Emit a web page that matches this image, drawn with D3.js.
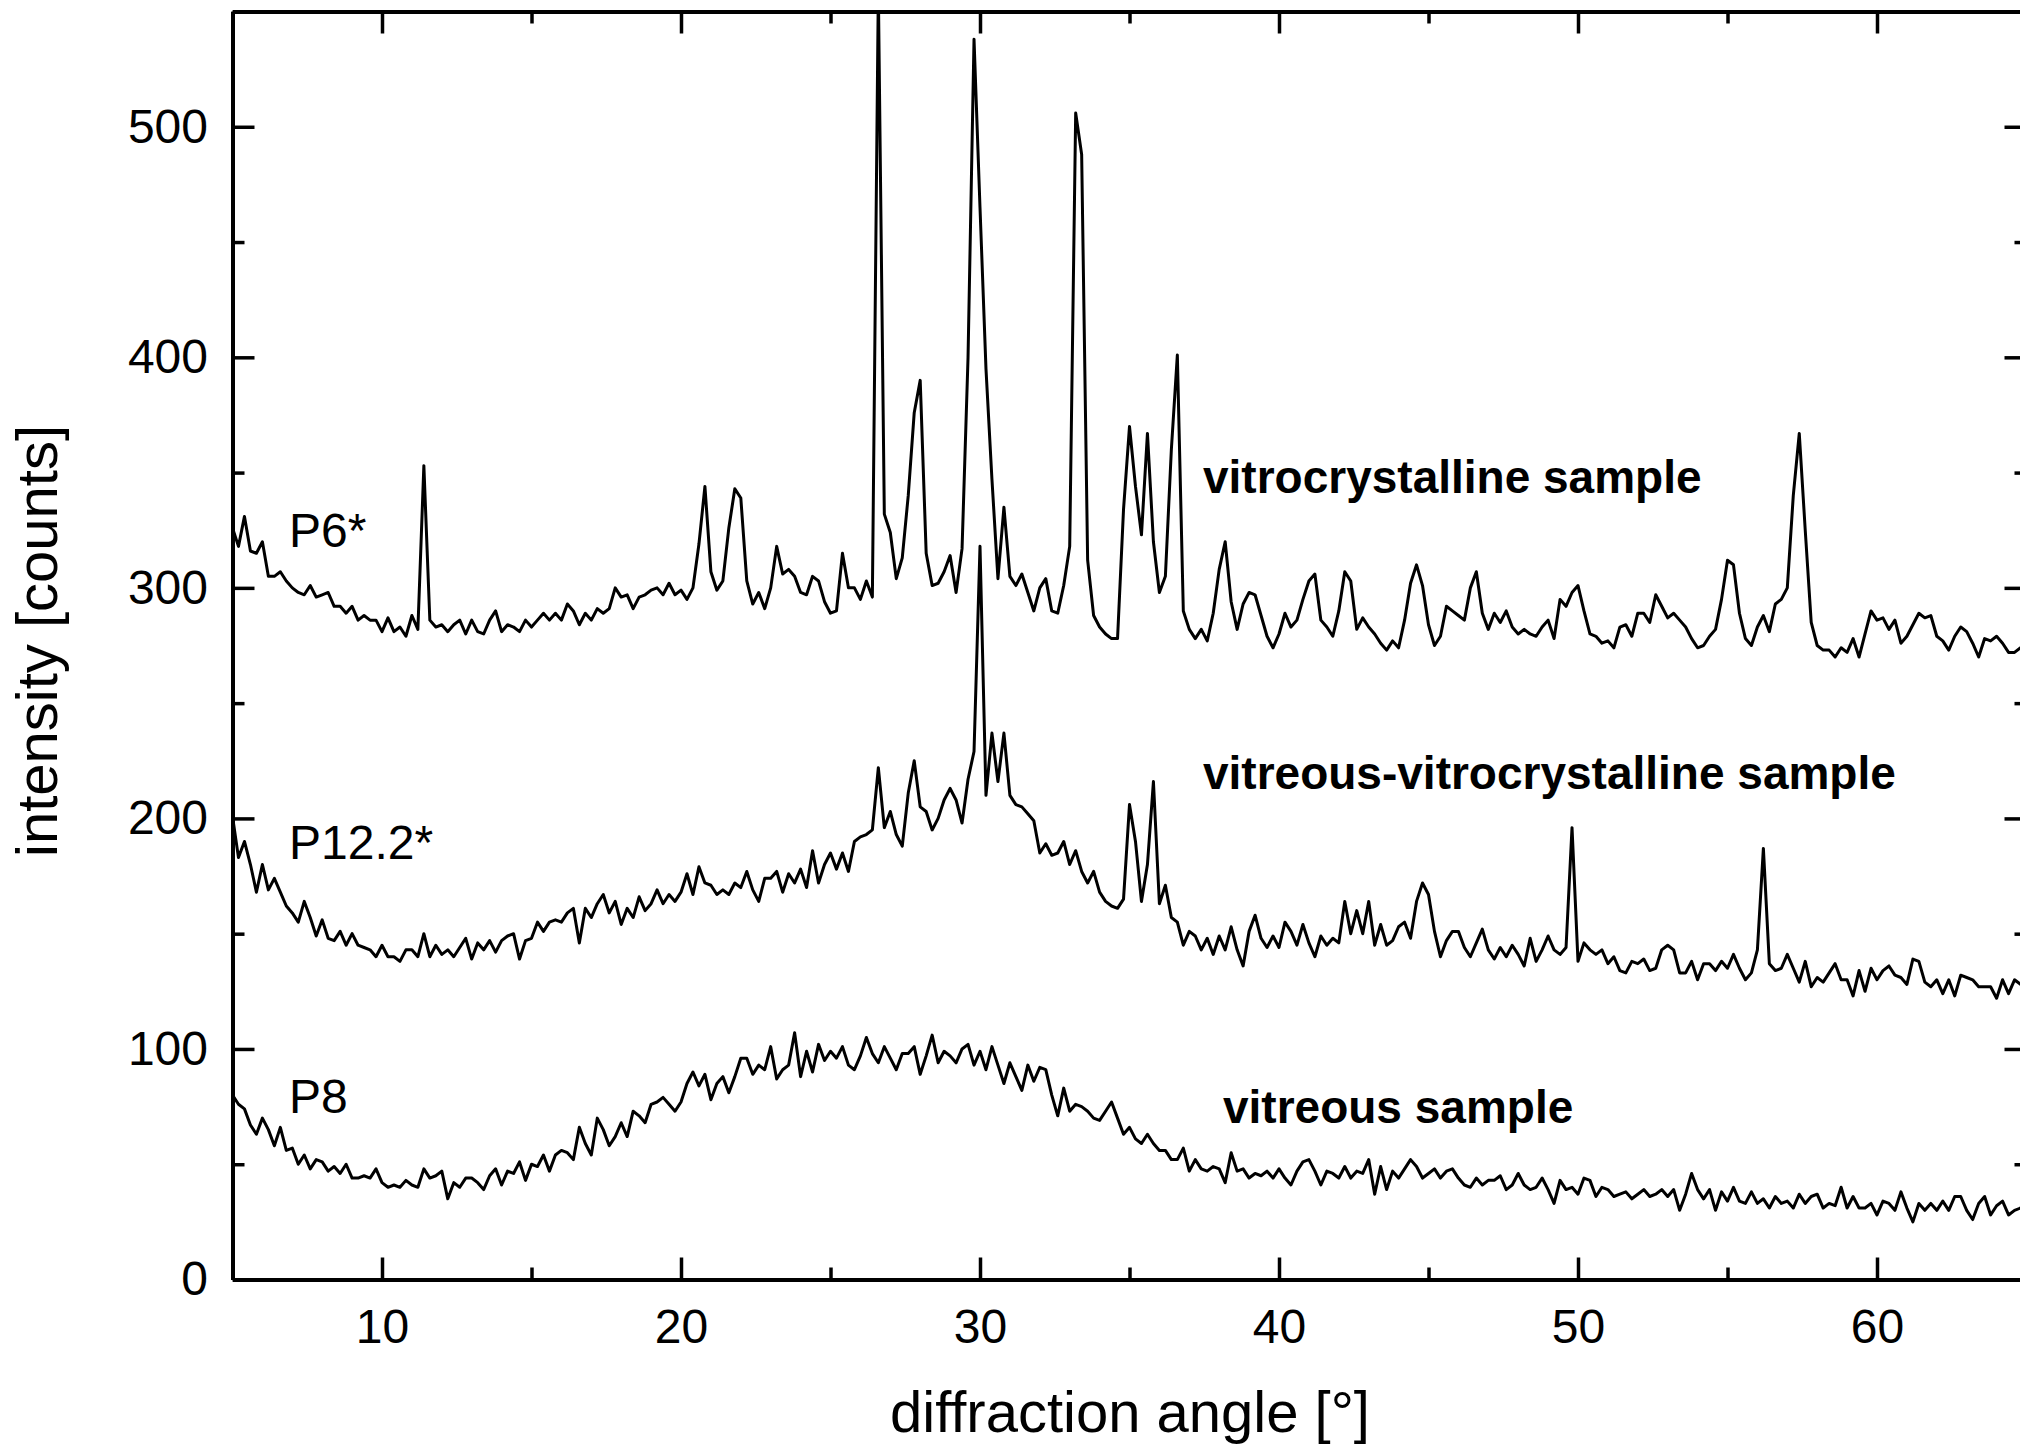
<!DOCTYPE html>
<html>
<head>
<meta charset="utf-8">
<script src="https://cdn.jsdelivr.net/npm/d3@7"></script>
<style>
  html, body { margin: 0; padding: 0; background: #fff; }
  svg { display: block; }
  text { font-family: "Liberation Sans", Arial, Helvetica, sans-serif; fill: #000; }
</style>
</head>
<body>
<svg id="chart" width="2020" height="1446"></svg>
<script>
// Scan grid: 2-theta from 5° to 65° in 0.2° steps (301 points per pattern)
const angleStart = 5;
const angleStep = 0.2;

// Sample P6* (vitrocrystalline), counts
const countsP6 = [
  326,318,331,316,315, 320,305,305,307,303, 300,298,297,301,296, 297,298,292,292,289,
  292,286,288,286,286, 281,287,281,283,279, 288,282,353,286,283, 284,281,284,286,280,
  286,281,280,286,290, 281,284,283,281,286, 283,286,289,286,289, 286,293,290,284,289,
  286,291,289,291,300, 296,297,291,296,297, 299,300,297,302,297, 299,295,300,319,344,
  307,299,303,326,343, 339,303,293,298,291, 300,318,306,308,305, 298,297,305,303,294,
  289,290,315,300,300, 295,303,296,560,332, 324,304,313,340,376, 390,315,301,302,307,
  314,298,317,400,538, 465,395,347,304,335, 305,301,306,298,290, 300,304,290,289,301,
  318,506,488,312,288, 283,280,278,278,334, 370,344,323,367,320, 298,305,360,401,290,
  282,278,282,277,289, 308,320,294,282,293, 298,297,288,279,274, 280,289,283,286,295,
  303,306,286,283,279, 290,307,303,282,287, 283,280,276,273,277, 274,286,302,310,301,
  284,275,279,292,290, 288,286,300,307,289, 282,289,285,290,283, 280,282,280,279,283,
  286,278,295,292,298, 301,290,280,279,276, 277,274,283,284,279, 289,289,285,297,292,
  287,289,286,283,278, 274,275,279,282,295, 312,310,289,278,275, 283,288,281,293,295,
  300,340,367,325,285, 275,273,273,270,274, 272,278,270,280,290, 286,287,282,286,276,
  279,284,289,287,288, 279,277,273,279,283, 281,276,270,278,277, 279,276,272,272,274,
  275
];

// Sample P12.2* (vitreous-vitrocrystalline), counts
const countsP12 = [
  201,183,190,180,168, 180,169,174,168,162, 159,155,164,157,149, 156,148,147,151,145,
  150,145,144,143,140, 145,140,140,138,143, 143,140,150,140,145, 141,143,140,144,148,
  139,146,143,147,142, 147,149,150,139,147, 148,155,151,155,156, 155,159,161,146,161,
  157,163,167,159,164, 154,161,157,166,160, 163,169,163,167,164, 168,176,167,179,172,
  171,167,169,167,172, 170,177,169,164,174, 174,177,168,176,172, 178,170,186,172,180,
  185,178,185,177,190, 192,193,195,222,196, 203,193,188,211,225, 205,203,195,200,208,
  213,208,198,217,229, 318,210,237,216,237, 210,206,205,202,199, 185,189,184,185,190,
  180,186,177,172,177, 168,164,162,161,165, 206,190,164,180,216, 163,171,157,155,145,
  151,149,143,148,141, 149,143,153,143,136, 151,158,148,144,149, 144,155,151,145,154,
  146,140,149,145,148, 146,164,150,160,150, 164,145,154,145,147, 153,155,148,164,172,
  167,151,140,147,151, 151,144,140,146,152, 143,139,144,140,145, 141,136,148,138,143,
  149,143,141,144,196, 138,146,143,141,143, 137,140,134,133,138, 137,139,134,135,143,
  145,143,133,133,138, 130,137,137,134,138, 135,141,135,130,133, 143,187,137,134,135,
  141,135,129,138,127, 131,129,133,137,130, 130,123,134,125,135, 130,134,136,132,131,
  128,139,138,129,127, 130,124,130,123,132, 131,130,127,127,127, 122,130,124,130,128,
  130
];

// Sample P8 (vitreous), counts
const countsP8 = [
  80,76,74,67,63, 70,65,58,66,56, 57,50,54,48,52, 51,47,49,46,50,
  44,44,45,44,48, 42,40,41,40,43, 41,40,48,44,45, 47,35,42,40,44,
  44,42,39,45,48, 41,47,46,51,43, 50,49,54,47,54, 56,55,52,66,59,
  54,70,65,58,62, 68,62,73,71,68, 76,77,79,76,73, 77,85,90,84,89,
  78,85,88,81,88, 96,96,89,93,91, 101,87,91,93,107, 88,99,90,102,95,
  99,96,101,93,91, 97,105,98,94,101, 96,91,98,98,101, 89,97,106,94,99,
  97,94,100,102,93, 99,91,101,93,85, 94,88,82,93,86, 92,91,80,71,83,
  73,76,75,73,70, 69,73,77,70,63, 66,61,59,63,59, 56,56,52,52,57,
  47,52,48,47,49, 48,42,55,47,48, 44,46,45,47,44, 48,44,41,47,51,
  52,47,41,47,46, 44,49,44,47,46, 52,37,49,39,47, 44,48,52,49,44,
  46,48,44,47,48, 44,41,40,44,41, 43,43,45,39,41, 46,41,39,40,44,
  39,33,43,39,40, 37,44,43,36,40, 39,36,37,38,35, 37,39,36,37,39,
  36,39,30,37,46, 39,35,39,30,38, 34,40,34,33,38, 33,35,31,36,33,
  34,31,37,33,36, 37,31,33,32,40, 31,36,31,31,33, 28,34,33,30,38,
  31,25,33,30,33, 30,34,30,36,36, 30,26,33,36,28, 32,34,28,30,31,
  34
];

// Axis ticks
const xMajorTicks = [10, 20, 30, 40, 50, 60];
const xMinorTicks = [5, 15, 25, 35, 45, 55, 65];
const yMajorTicks = [0, 100, 200, 300, 400, 500];
const yMinorTicks = [50, 150, 250, 350, 450, 550];

// Curve names and annotations
const sampleCodes = ["P6*", "P12.2*", "P8"];
const sampleKinds = ["vitrocrystalline sample", "vitreous-vitrocrystalline sample", "vitreous sample"];
const xTitle = "diffraction angle [°]";
const yTitle = "intensity [counts]";

const angles = countsP6.map((_, i) => +(angleStart + i * angleStep).toFixed(1));

const svg = d3.select("#chart");
const W = 2020, H = 1446;
const plot = { left: 232.5, right: 2026.5, top: 11.5, bottom: 1279.5 };

svg.append("rect").attr("width", W).attr("height", H).attr("fill", "#fff");

const x = d3.scaleLinear().domain([5, 65]).range([plot.left, plot.right]);
const y = d3.scaleLinear().domain([0, 550]).range([plot.bottom, plot.top]);

svg.append("clipPath").attr("id", "plot-clip")
  .append("rect")
  .attr("x", plot.left).attr("y", plot.top)
  .attr("width", plot.right - plot.left).attr("height", plot.bottom - plot.top);

// Diffraction patterns
const line = d3.line()
  .x((d, i) => x(angles[i]))
  .y(d => y(d));

const curves = svg.append("g").attr("clip-path", "url(#plot-clip)");
[countsP6, countsP12, countsP8].forEach(series => {
  curves.append("path")
    .datum(series)
    .attr("d", line)
    .attr("fill", "none")
    .attr("stroke", "#000")
    .attr("stroke-width", 3)
    .attr("stroke-linejoin", "round")
    .attr("stroke-linecap", "round");
});

// Frame with inward ticks on all four sides
const fontSize = 48;
function styleAxis(g, showLabels) {
  g.selectAll(".domain").attr("stroke", "#000").attr("stroke-width", 4);
  g.selectAll(".tick line").attr("stroke", "#000").attr("stroke-width", 3.5);
  g.selectAll(".tick text")
    .attr("font-size", fontSize)
    .attr("font-family", "Liberation Sans, Arial, sans-serif")
    .attr("fill", "#000")
    .style("display", showLabels ? null : "none");
}
function minor(axis, g) {
  g.call(axis);
  g.select(".domain").remove();
  g.selectAll(".tick line").attr("stroke", "#000").attr("stroke-width", 3.5);
  g.selectAll(".tick text").remove();
}

// bottom
svg.append("g").attr("transform", `translate(0,${plot.bottom})`)
  .call(d3.axisBottom(x).tickValues(xMajorTicks).tickSizeInner(-22).tickSizeOuter(0).tickPadding(29.5).tickFormat(d3.format("d")))
  .call(g => styleAxis(g, true));
minor(d3.axisBottom(x).tickValues(xMinorTicks).tickSizeInner(-12).tickSizeOuter(0),
  svg.append("g").attr("transform", `translate(0,${plot.bottom})`));

// top
svg.append("g").attr("transform", `translate(0,${plot.top})`)
  .call(d3.axisTop(x).tickValues(xMajorTicks).tickSizeInner(-22).tickSizeOuter(0).tickFormat(""))
  .call(g => styleAxis(g, false));
minor(d3.axisTop(x).tickValues(xMinorTicks).tickSizeInner(-12).tickSizeOuter(0),
  svg.append("g").attr("transform", `translate(0,${plot.top})`));

// left
svg.append("g").attr("transform", `translate(${plot.left},0)`)
  .call(d3.axisLeft(y).tickValues(yMajorTicks).tickSizeInner(-22).tickSizeOuter(0).tickPadding(24.5).tickFormat(d3.format("d")))
  .call(g => styleAxis(g, true));
minor(d3.axisLeft(y).tickValues(yMinorTicks).tickSizeInner(-12).tickSizeOuter(0),
  svg.append("g").attr("transform", `translate(${plot.left},0)`));

// right
svg.append("g").attr("transform", `translate(${plot.right},0)`)
  .call(d3.axisRight(y).tickValues(yMajorTicks).tickSizeInner(-22).tickSizeOuter(0).tickFormat(""))
  .call(g => styleAxis(g, false));
minor(d3.axisRight(y).tickValues(yMinorTicks).tickSizeInner(-12).tickSizeOuter(0),
  svg.append("g").attr("transform", `translate(${plot.right},0)`));

// Axis titles
svg.append("text")
  .attr("x", 1130).attr("y", 1432)
  .attr("text-anchor", "middle")
  .attr("font-size", 58)
  .text(xTitle);

svg.append("text")
  .attr("transform", "translate(57,641) rotate(-90)")
  .attr("text-anchor", "middle")
  .attr("font-size", 58)
  .text(yTitle);

// Sample codes at the left of each curve
const codePos = [[289, 547], [289, 859], [289, 1113]];
sampleCodes.forEach((c, i) => {
  svg.append("text")
    .attr("x", codePos[i][0]).attr("y", codePos[i][1])
    .attr("font-size", fontSize)
    .text(c);
});

// Sample descriptions
const kindPos = [[1203, 493], [1203, 789], [1223, 1123]];
sampleKinds.forEach((k, i) => {
  svg.append("text")
    .attr("x", kindPos[i][0]).attr("y", kindPos[i][1])
    .attr("font-size", 46)
    .attr("font-weight", "bold")
    .text(k);
});
</script>
</body>
</html>
